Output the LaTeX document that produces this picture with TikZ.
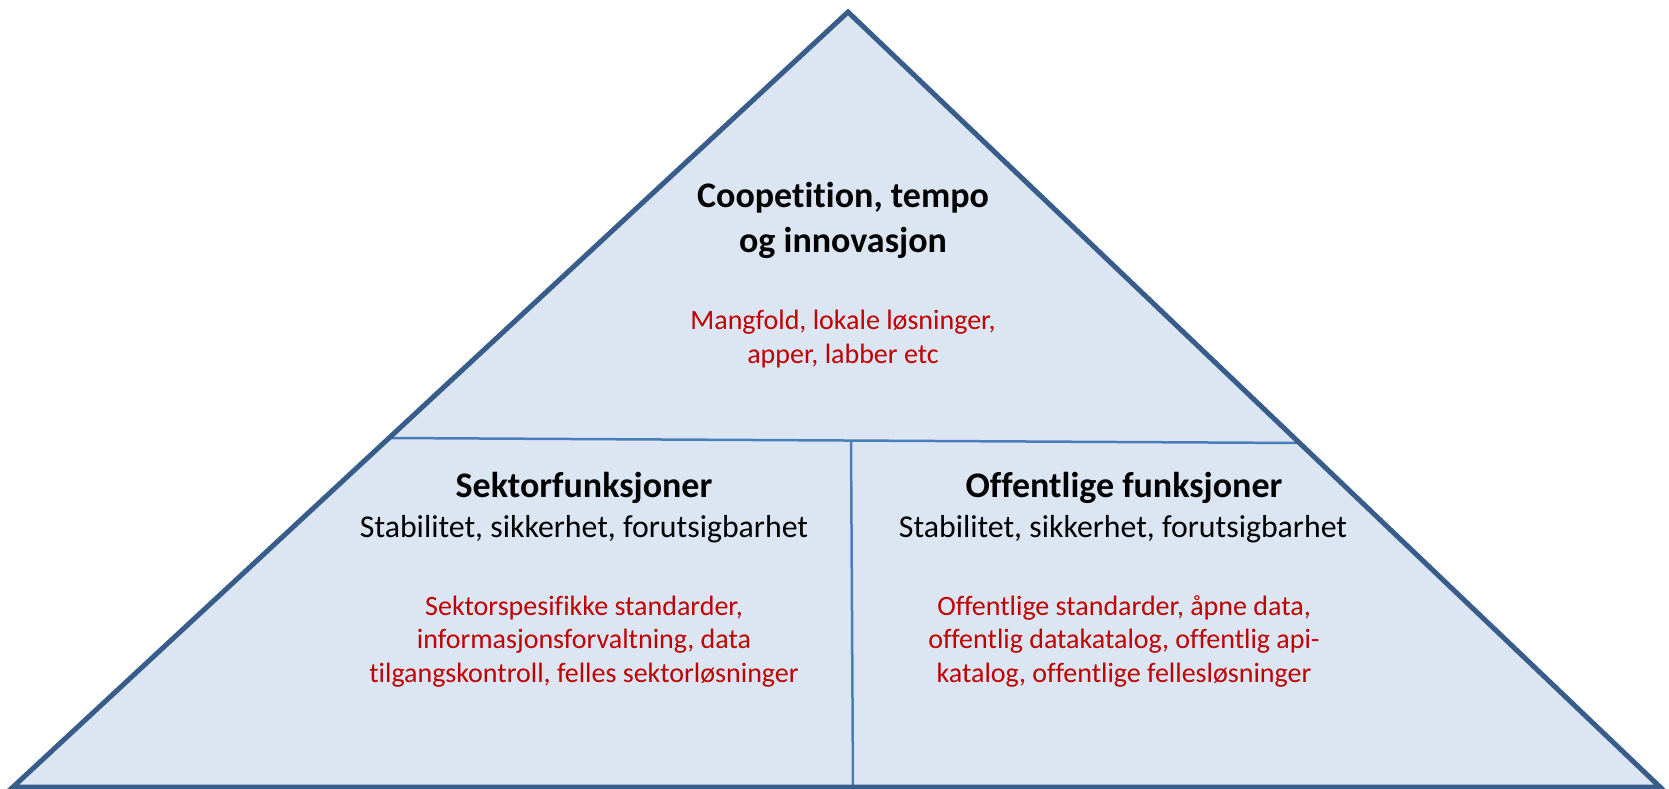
\documentclass[tikz,border=0pt]{standalone}
\usepackage{fontspec}
\setmainfont{Carlito}[Ligatures=NoCommon]
\definecolor{outerblue}{HTML}{385D8A}
\definecolor{innerblue}{HTML}{4A7EBB}
\definecolor{fillblue}{HTML}{DCE6F2}
\definecolor{redtext}{HTML}{C00000}
\begin{document}
\begin{tikzpicture}[x=1pt,y=-1pt,
  outer/.style={draw=outerblue,line width=5pt,line join=miter},
  inner/.style={draw=innerblue,line width=2.5pt},
  head/.style={align=center,anchor=base,inner sep=0pt,font=\fontsize{36}{45}\selectfont\bfseries},
  sub/.style={align=center,anchor=base,inner sep=0pt,font=\fontsize{31.8}{36}\selectfont},
  redt/.style={align=center,anchor=base,inner sep=0pt,text=redtext,font=\fontsize{28}{33.5}\selectfont}]
\useasboundingbox (0,0) rectangle (1669,789);
\coordinate (apex) at (848,12);
\coordinate (bl) at (13,787);
\coordinate (br) at (1660,787);
\coordinate (hl) at (389,438);
\coordinate (hr) at (1300,443);
\coordinate (vt) at (851,440);
\coordinate (vb) at (853,787);
\fill[fillblue] (apex) -- (bl) -- (br) -- cycle;
\draw[inner] (hl) -- (hr);
\draw[inner] (vt) -- (vb);
\draw[outer] (apex) -- (bl) -- (br) -- cycle;
\node[head] (toph) at (843,252) {Coopetition, tempo\\og innovasjon};
\node[redt] (topr) at (843,363) {Mangfold, lokale løsninger,\\apper, labber etc};
\node[head] (lh) at (584,497) {Sektorfunksjoner};
\node[sub] (ls) at (584,537) {Stabilitet, sikkerhet, forutsigbarhet};
\node[redt] (lr) at (584,682) {Sektorspesifikke standarder,\\informasjonsforvaltning, data\\tilgangskontroll, felles sektorløsninger};
\node[head] (rh) at (1124,497) {Offentlige funksjoner};
\node[sub] (rs) at (1123,537) {Stabilitet, sikkerhet, forutsigbarhet};
\node[redt] (rr) at (1124,682) {Offentlige standarder, åpne data,\\offentlig datakatalog, offentlig api-\\katalog, offentlige fellesløsninger};
\end{tikzpicture}
\end{document}
